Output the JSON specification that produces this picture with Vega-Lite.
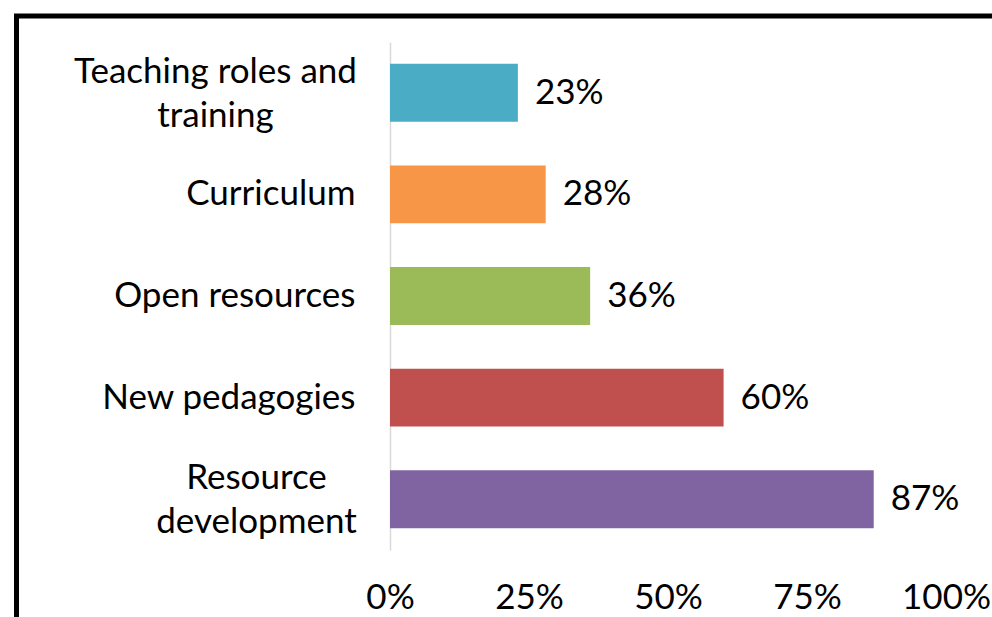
{
  "$schema": "https://vega.github.io/schema/vega-lite/v6.json",
  "width": 1000,
  "height": 610,
  "autosize": {"type": "none"},
  "padding": {"left": 16.5, "top": 16, "right": 0, "bottom": 0},
  "background": "white",
  "config": {
    "view": {"stroke": "black", "strokeWidth": 5},
    "font": "Lato",
    "axis": {"labelFont": "Lato", "labelColor": "black", "labelFontSize": 35}
  },
  "data": {
    "values": [
      {"area": "Teaching roles and training", "share": 0.23, "label": "23%"},
      {"area": "Curriculum", "share": 0.28, "label": "28%"},
      {"area": "Open resources", "share": 0.36, "label": "36%"},
      {"area": "New pedagogies", "share": 0.60, "label": "60%"},
      {"area": "Resource development", "share": 0.87, "label": "87%"}
    ]
  },
  "encoding": {
    "y": {
      "field": "area",
      "type": "nominal",
      "sort": null,
      "scale": {"range": [26, 534], "paddingInner": 0.43, "paddingOuter": 0.215},
      "axis": {
        "title": null,
        "orient": "left",
        "offset": -373.5,
        "domain": true,
        "domainColor": "#d9d9d9",
        "domainWidth": 1.5,
        "ticks": false,
        "tickSize": 0,
        "labelLineHeight": 44,
        "labelBaseline": "middle",
        "labelLimit": 400,
        "labelExpr": "datum.value == 'Teaching roles and training' ? ['Teaching roles and', 'training'] : datum.value == 'Resource development' ? ['Resource', 'development'] : datum.value",
        "labelAlign": {
          "condition": {"test": "datum.value == 'Teaching roles and training' || datum.value == 'Resource development'", "value": "center"},
          "value": "right"
        },
        "labelOffset": {
          "condition": {"test": "datum.value == 'Teaching roles and training' || datum.value == 'Resource development'", "value": -21},
          "value": 0
        },
        "labelPadding": {
          "condition": [
            {"test": "datum.value == 'Teaching roles and training'", "value": 175},
            {"test": "datum.value == 'Resource development'", "value": 134}
          ],
          "value": 35
        }
      }
    }
  },
  "layer": [
    {
      "mark": {"type": "bar"},
      "encoding": {
        "x": {
          "field": "share",
          "type": "quantitative",
          "scale": {"domain": [0, 1], "range": [373.5, 929.5], "nice": false},
          "axis": {
            "title": null,
            "orient": "bottom",
            "offset": -50,
            "values": [0, 0.25, 0.5, 0.75, 1],
            "format": ".0%",
            "domain": false,
            "ticks": false,
            "tickSize": 0,
            "grid": false,
            "labelPadding": 21,
            "labelBaseline": "middle",
            "labelFlush": false
          }
        },
        "color": {
          "field": "area",
          "type": "nominal",
          "sort": null,
          "legend": null,
          "scale": {
            "domain": ["Teaching roles and training", "Curriculum", "Open resources", "New pedagogies", "Resource development"],
            "range": ["#4BACC6", "#F79646", "#9BBB59", "#C0504D", "#8064A2"]
          }
        }
      }
    },
    {
      "mark": {"type": "text", "align": "left", "baseline": "middle", "dx": 17, "fontSize": 35, "font": "Lato", "color": "black"},
      "encoding": {
        "x": {"field": "share", "type": "quantitative"},
        "text": {"field": "label"}
      }
    }
  ]
}
